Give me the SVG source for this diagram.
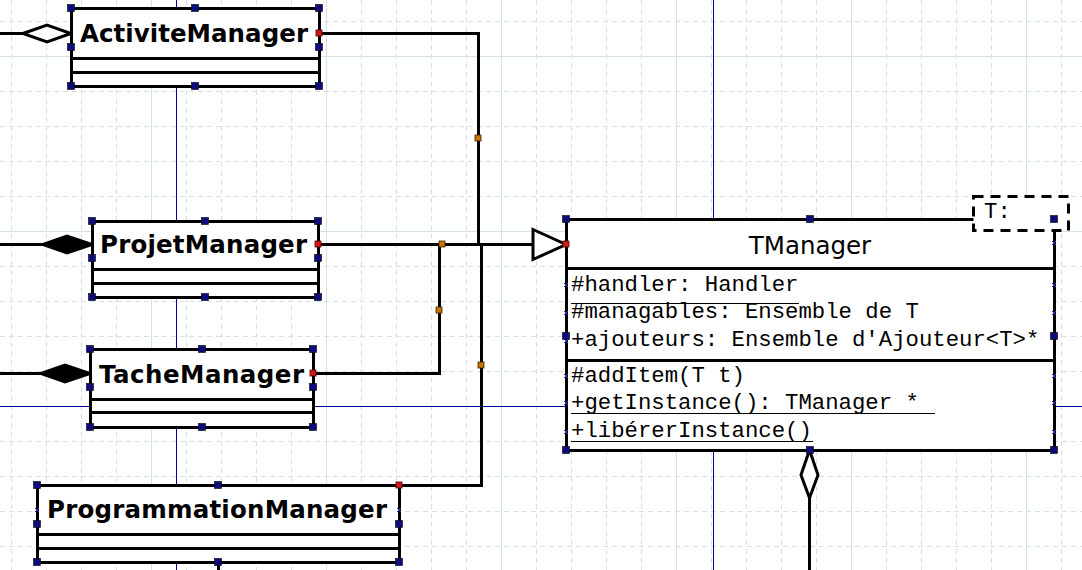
<svg xmlns="http://www.w3.org/2000/svg" width="1082" height="570" viewBox="0 0 1082 570">
<style>
.gmin{stroke:#d3e3e0;stroke-width:1;stroke-dasharray:5 4;fill:none}
.gmaj{stroke:#d3e3e0;stroke-width:1;fill:none}
.guide{stroke:#0000a0;stroke-width:1;fill:none}
.box{fill:#fff;stroke:#000;stroke-width:3}
.ln{stroke:#000;stroke-width:3;fill:none}
.conn{stroke:#000;stroke-width:3;fill:none;stroke-linejoin:miter}
.hol{stroke:#000;stroke-width:3;fill:#fff;stroke-linejoin:miter}
.fil{stroke:#000;stroke-width:3;fill:#000;stroke-linejoin:miter}
.title{font-family:"DejaVu Sans",Verdana,sans-serif;font-weight:bold;font-size:24.5px;fill:#000}
.tname{font-family:"DejaVu Sans",Verdana,sans-serif;font-size:24.5px;fill:#000}
.mono{font-family:"Liberation Mono","Courier New",monospace;font-size:22.3px;fill:#000}
.h{fill:#0c0c7c;stroke:#000;stroke-width:0.6}
.o{fill:#c87400;stroke:#3a2000;stroke-width:0.8}
.r{fill:#d01818;stroke:#500;stroke-width:0.8}
.x{stroke:#3030c0;stroke-width:1;fill:none}
</style>
<rect width="1082" height="570" fill="#fff"/>
<g id="grid" shape-rendering="crispEdges">
<path class="gmin" d="M11.5 0V570M46.5 0V570M81.5 0V570M116.5 0V570M186.5 0V570M221.5 0V570M256.5 0V570M291.5 0V570M361.5 0V570M396.5 0V570M431.5 0V570M466.5 0V570M536.5 0V570M571.5 0V570M606.5 0V570M641.5 0V570M711.5 0V570M746.5 0V570M781.5 0V570M816.5 0V570M886.5 0V570M921.5 0V570M956.5 0V570M991.5 0V570M1061.5 0V570"/>
<path class="gmin" d="M0 21.5H1082M0 91.5H1082M0 126.5H1082M0 161.5H1082M0 196.5H1082M0 266.5H1082M0 301.5H1082M0 336.5H1082M0 371.5H1082M0 441.5H1082M0 476.5H1082M0 511.5H1082M0 546.5H1082"/>
<path class="gmaj" d="M151.5 0V570M326.5 0V570M501.5 0V570M676.5 0V570M851.5 0V570M1026.5 0V570M0 56.5H1082M0 231.5H1082"/>
<path class="guide" d="M176.5 0V570M713.5 0V570M0 406.5H1082"/>
</g>
<g id="connectors">
<path class="conn" d="M0 33.5H23"/>
<path class="hol" d="M23 33.5L47 25L71 33.5L47 42Z"/>
<path class="conn" d="M0 244.5H43"/>
<path class="fil" d="M43 244.5L67 236L92 244.5L67 253Z"/>
<path class="conn" d="M0 373.5H41"/>
<path class="fil" d="M41 373.5L65 365L90 373.5L65 382Z"/>
<path class="conn" d="M319 33.5H478.5V244.5"/>
<path class="conn" d="M318 244.5H533"/>
<path class="conn" d="M313 373.5H439.5V244.5"/>
<path class="conn" d="M399 485.5H481.5V244.5"/>
<path class="hol" d="M533 229.5L566 244.5L533 259.5Z"/>
<path class="hol" d="M809.5 450L801 475L809.5 498L818 475Z"/>
<path class="conn" d="M809.5 498V570"/>
<path class="conn" d="M218.5 562V570"/>
</g>
<g id="ActiviteManager">
<rect class="box" x="71.5" y="8.5" width="248" height="78"/>
<path class="ln" d="M71 58.5H319M71 72.5H319"/>
<text class="title" x="80" y="42" textLength="228">ActiviteManager</text>
</g>
<g id="ProjetManager">
<rect class="box" x="92.5" y="221.5" width="226" height="76"/>
<path class="ln" d="M92 269.5H318M92 283.5H318"/>
<text class="title" x="100" y="253" textLength="207">ProjetManager</text>
</g>
<g id="TacheManager">
<rect class="box" x="90.5" y="349.5" width="223" height="78"/>
<path class="ln" d="M90 399.5H313M90 412.5H313"/>
<text class="title" x="99" y="383" textLength="205">TacheManager</text>
</g>
<g id="ProgrammationManager">
<rect class="box" x="37.5" y="485.5" width="362" height="77"/>
<path class="ln" d="M37 534.5H399M37 548.5H399"/>
<text class="title" x="47" y="518" textLength="340">ProgrammationManager</text>
</g>
<g id="TManager">
<rect class="box" x="566.5" y="219.5" width="488" height="231"/>
<path class="ln" d="M566 268.5H1054M566 360.5H1054"/>
<text class="tname" x="810" y="254" text-anchor="middle">TManager</text>
<text class="mono" x="571" y="291">#handler: Handler</text>
<path stroke="#000" stroke-width="1" d="M571 303.5H799"/>
<text class="mono" x="571" y="318">#managables: Ensemble de T</text>
<text class="mono" x="571" y="346">+ajouteurs: Ensemble d'Ajouteur&lt;T&gt;*</text>
<text class="mono" x="571" y="382">#addItem(T t)</text>
<text class="mono" x="571" y="409">+getInstance(): TManager *</text>
<path stroke="#000" stroke-width="1" d="M571 413.5H935"/>
<text class="mono" x="571" y="437">+libérerInstance()</text>
<path stroke="#000" stroke-width="1" d="M571 441.5H813"/>
<rect x="973.5" y="196.5" width="95" height="34" fill="#fff" stroke="#000" stroke-width="3" stroke-dasharray="10 7"/>
<text class="mono" x="984" y="218">T:</text>
</g>
<g id="handles">
<rect class="h" x="67.5" y="4.5" width="7" height="7"/><rect class="h" x="191.5" y="4.5" width="7" height="7"/><rect class="h" x="315.5" y="4.5" width="7" height="7"/>
<rect class="h" x="67.5" y="43.5" width="7" height="7"/><rect class="h" x="315.5" y="43.5" width="7" height="7"/>
<rect class="h" x="67.5" y="82.5" width="7" height="7"/><rect class="h" x="191.5" y="82.5" width="7" height="7"/><rect class="h" x="315.5" y="82.5" width="7" height="7"/>
<rect class="r" x="316" y="30" width="6" height="6"/>
<rect class="h" x="88.5" y="217.5" width="7" height="7"/><rect class="h" x="201.5" y="217.5" width="7" height="7"/><rect class="h" x="314.5" y="217.5" width="7" height="7"/>
<rect class="h" x="88.5" y="254.5" width="7" height="7"/><rect class="h" x="314.5" y="254.5" width="7" height="7"/>
<rect class="h" x="88.5" y="293.5" width="7" height="7"/><rect class="h" x="201.5" y="293.5" width="7" height="7"/><rect class="h" x="314.5" y="293.5" width="7" height="7"/>
<rect class="r" x="315" y="241" width="6" height="6"/>
<rect class="h" x="86.5" y="345.5" width="7" height="7"/><rect class="h" x="198.5" y="345.5" width="7" height="7"/><rect class="h" x="309.5" y="345.5" width="7" height="7"/>
<rect class="h" x="86.5" y="383.5" width="7" height="7"/><rect class="h" x="309.5" y="383.5" width="7" height="7"/>
<rect class="h" x="86.5" y="423.5" width="7" height="7"/><rect class="h" x="198.5" y="423.5" width="7" height="7"/><rect class="h" x="309.5" y="423.5" width="7" height="7"/>
<rect class="r" x="310" y="370" width="6" height="6"/>
<rect class="h" x="33.5" y="481.5" width="7" height="7"/><rect class="h" x="214.5" y="481.5" width="7" height="7"/><rect class="r" x="396" y="482" width="6" height="6"/>
<rect class="h" x="33.5" y="520.5" width="7" height="7"/><rect class="h" x="395.5" y="520.5" width="7" height="7"/>
<rect class="h" x="33.5" y="558.5" width="7" height="7"/><rect class="h" x="214.5" y="558.5" width="7" height="7"/><rect class="h" x="395.5" y="558.5" width="7" height="7"/>
<rect class="h" x="562.5" y="215.5" width="7" height="7"/><rect class="h" x="806.5" y="215.5" width="7" height="7"/><rect class="h" x="1050.5" y="215.5" width="7" height="7"/>
<rect class="h" x="562.5" y="332.5" width="7" height="7"/><rect class="h" x="1050.5" y="332.5" width="7" height="7"/>
<rect class="h" x="562.5" y="446.5" width="7" height="7"/><rect class="h" x="806.5" y="446.5" width="7" height="7"/><rect class="h" x="1050.5" y="446.5" width="7" height="7"/>
<rect class="r" x="563" y="241" width="6" height="6"/>
<rect class="o" x="475" y="135" width="6" height="6"/>
<rect class="o" x="439" y="241" width="6" height="6"/>
<rect class="o" x="436" y="307" width="6" height="6"/>
<rect class="o" x="478" y="362" width="6" height="6"/>
<path class="x" d="M35 508l4 4M39 508l-4 4M397 508l4 4M401 508l-4 4M564 283l4 4M568 283l-4 4M564 311l4 4M568 311l-4 4M564 339l4 4M568 339l-4 4M564 374l4 4M568 374l-4 4M564 401l4 4M568 401l-4 4M564 430l4 4M568 430l-4 4M1052 241l4 4M1056 241l-4 4M1052 283l4 4M1056 283l-4 4M1052 311l4 4M1056 311l-4 4M1052 374l4 4M1056 374l-4 4M1052 401l4 4M1056 401l-4 4M1052 430l4 4M1056 430l-4 4"/>
</g>
</svg>
